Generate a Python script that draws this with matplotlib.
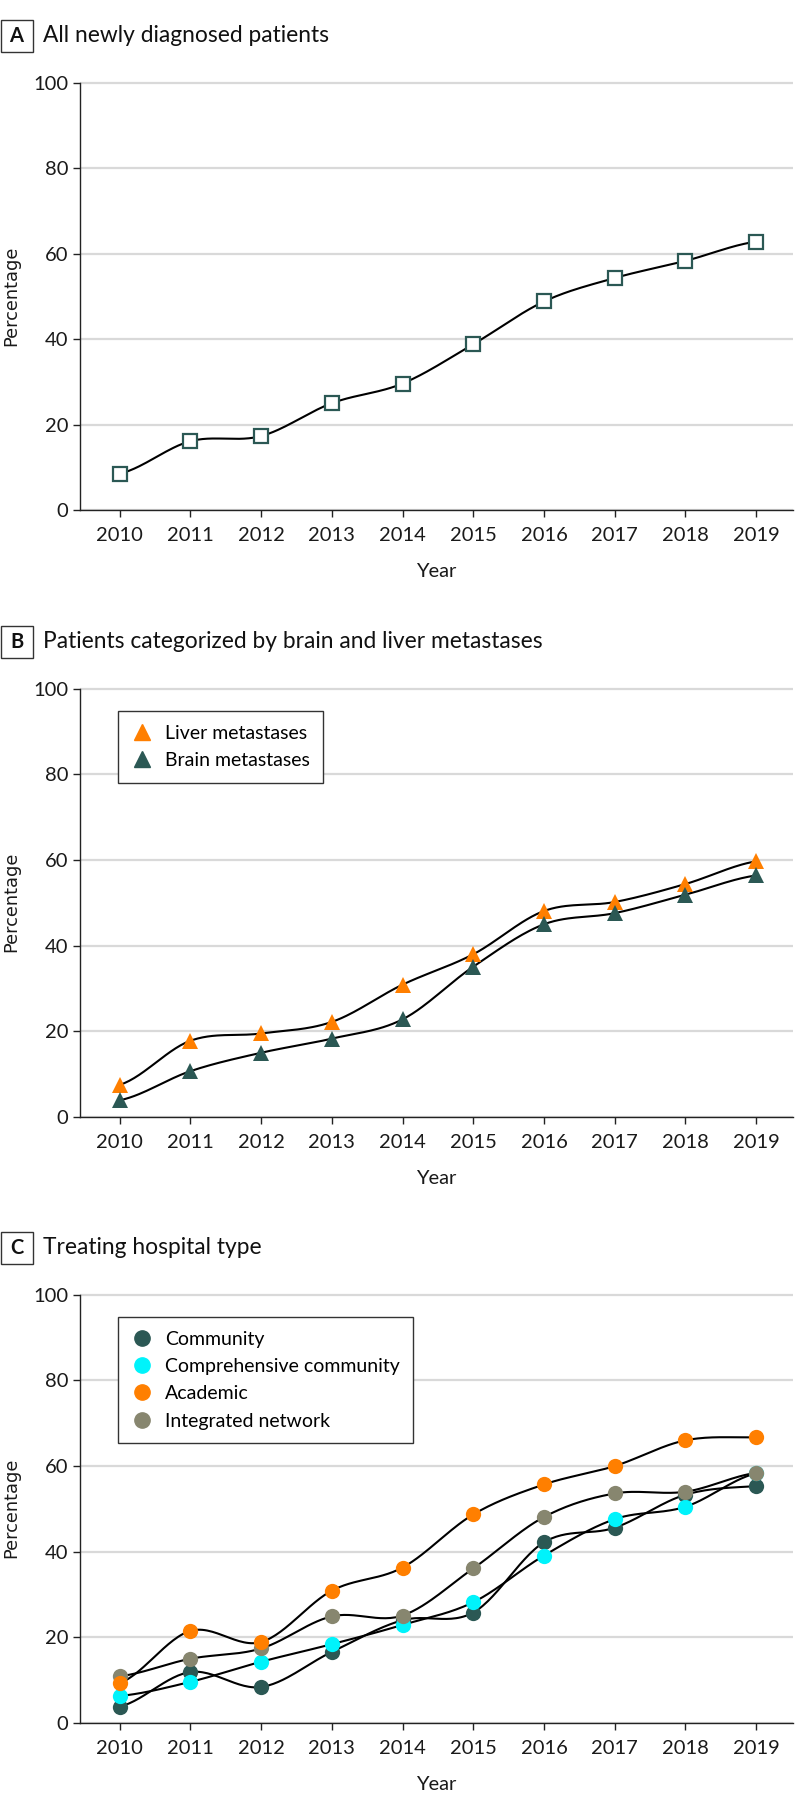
import numpy as np
import matplotlib
matplotlib.use("Agg")
import matplotlib.pyplot as plt
from matplotlib.lines import Line2D
from matplotlib.patches import Rectangle

plt.rcParams['font.family'] = ['Lato', 'DejaVu Sans']

# data
years = [2010, 2011, 2012, 2013, 2014, 2015, 2016, 2017, 2018, 2019]

all_patients = [8.5, 16.1, 17.3, 25.0, 29.6, 38.8, 48.8, 54.3, 58.3, 62.8]

liver_mets = [7.5, 17.8, 19.5, 22.2, 30.9, 38.0, 48.1, 50.2, 54.4, 59.7]
brain_mets = [3.9, 10.7, 15.0, 18.3, 22.8, 35.1, 45.0, 47.6, 51.9, 56.4]

community = [3.8, 11.9, 8.4, 16.6, 24.0, 25.8, 42.2, 45.6, 53.3, 55.3]
comprehensive = [6.3, 9.6, 14.3, 18.4, 22.9, 28.2, 39.1, 47.6, 50.5, 58.3]
academic = [9.3, 21.5, 18.9, 30.9, 36.3, 48.7, 55.7, 60.0, 66.0, 66.7]
integrated = [10.9, 15.0, 17.4, 24.9, 25.1, 36.1, 48.1, 53.6, 54.0, 58.4]

yticks = [0, 20, 40, 60, 80, 100]

TEAL = '#2b5854'
ORANGE = '#ff7f00'
CYAN = '#00f3fb'
OLIVE = '#87866f'
GRID = '#d9d9d9'
TICKFONT = ['Lato', 'DejaVu Sans']


def smooth(x, y, n=30):
    # cardinal (catmull-rom) spline through the points
    x = np.asarray(x, float)
    y = np.asarray(y, float)
    m = np.zeros_like(y)
    m[1:-1] = (y[2:] - y[:-2]) / 2
    m[0] = (y[1] - y[0]) / 2
    m[-1] = (y[-1] - y[-2]) / 2
    xs, ys = [], []
    t = np.linspace(0, 1, n)
    h00 = 2 * t**3 - 3 * t**2 + 1
    h10 = t**3 - 2 * t**2 + t
    h01 = -2 * t**3 + 3 * t**2
    h11 = t**3 - t**2
    for i in range(len(x) - 1):
        xs.append(x[i] + t * (x[i + 1] - x[i]))
        ys.append(h00 * y[i] + h10 * m[i] + h01 * y[i + 1] + h11 * m[i + 1])
    return np.concatenate(xs), np.concatenate(ys)


W, H = 798, 1810
fig = plt.figure(figsize=(W / 100, H / 100), dpi=100)


def make_axes(top_px, bottom_px):
    ax = fig.add_axes([80 / W, 1 - bottom_px / H, 713 / W, (bottom_px - top_px) / H])
    ax.set_xlim(2009.44, 2019.52)
    ax.set_ylim(0, 100.4)
    ax.spines['top'].set_visible(False)
    ax.spines['right'].set_visible(False)
    ax.spines['left'].set_bounds(0, 100)
    for s in ('left', 'bottom'):
        ax.spines[s].set_linewidth(1.0)
        ax.spines[s].set_color('#222222')
    ax.set_xticks(years)
    ax.set_yticks(yticks)
    ax.yaxis.grid(True, color=GRID, linewidth=1.6)
    ax.set_axisbelow(True)
    ax.tick_params(axis='x', length=5, width=1.0, pad=7, labelsize=14.5, colors='#222222')
    ax.tick_params(axis='y', length=5, width=1.0, pad=3.5, labelsize=14.5, colors='#222222')
    for lab in ax.get_xticklabels() + ax.get_yticklabels():
        lab.set_family(TICKFONT)
        lab.set_color('#1a1a1a')
    ax.set_xlabel('Year', fontsize=14.5, family=TICKFONT, labelpad=14, color='#1a1a1a')
    ax.set_ylabel('Percentage', fontsize=12.8, family=['DejaVu Sans'], labelpad=9,
                  color='#1a1a1a')
    return ax


def panel_title(letter, text, center_px):
    y0 = 1 - (center_px + 16) / H
    fig.patches.append(Rectangle((0.5 / W, y0), 32 / W, 32 / H, transform=fig.transFigure,
                                 facecolor='white', edgecolor='#333333', linewidth=1.0))
    fig.text(16.5 / W, 1 - center_px / H, letter, ha='center', va='center',
             fontsize=14.5, fontweight='bold', color='#111111')
    fig.text(43 / W, 1 - center_px / H, text, ha='left', va='center',
             fontsize=16.4, color='#111111')


def draw_line(ax, y, color, marker, size, z, face=None, mew=0):
    sx, sy = smooth(years, y)
    ax.plot(sx, sy, color='black', linewidth=1.5, zorder=2)
    ax.plot(years, y, linestyle='none', marker=marker, markersize=size,
            markerfacecolor=face if face else color, markeredgecolor=color,
            markeredgewidth=mew, zorder=z)


def add_legend(ax, handles, labels, top_px, bottom_px, box_top_px):
    leg = ax.legend(handles, labels, loc='upper left',
                    bbox_to_anchor=((118 - 80) / 713, (bottom_px - box_top_px) / (bottom_px - top_px)),
                    borderaxespad=0, frameon=True, fancybox=False, fontsize=14,
                    handlelength=1.1, handletextpad=0.6, labelspacing=0.53,
                    borderpad=0.7, framealpha=1)
    leg.get_frame().set_edgecolor('#333333')
    leg.get_frame().set_linewidth(1.0)
    return leg


# panel A
axA = make_axes(81, 510)
panel_title('A', 'All newly diagnosed patients', 36)
draw_line(axA, all_patients, TEAL, 's', 9.5, 4, face='white', mew=1.6)

# panel B
axB = make_axes(687, 1117)
panel_title('B', 'Patients categorized by brain and liver metastases', 642)
draw_line(axB, liver_mets, ORANGE, '^', 12, 4)
draw_line(axB, brain_mets, TEAL, '^', 12, 5)
hB = [Line2D([], [], linestyle='none', marker='^', markersize=12, color=ORANGE),
      Line2D([], [], linestyle='none', marker='^', markersize=12, color=TEAL)]
add_legend(axB, hB, ['Liver metastases', 'Brain metastases'], 687, 1117, 711)

# panel C
axC = make_axes(1293, 1723)
panel_title('C', 'Treating hospital type', 1248)
draw_line(axC, community, TEAL, 'o', 11, 4)
draw_line(axC, comprehensive, CYAN, 'o', 11, 5)
draw_line(axC, integrated, OLIVE, 'o', 11, 6)
draw_line(axC, academic, ORANGE, 'o', 11, 7)
labelsC = ['Community', 'Comprehensive community', 'Academic', 'Integrated network']
colorsC = [TEAL, CYAN, ORANGE, OLIVE]
hC = [Line2D([], [], linestyle='none', marker='o', markersize=11, color=c) for c in colorsC]
add_legend(axC, hC, labelsC, 1293, 1723, 1317)

fig.savefig('out.png', dpi=100, facecolor='white')
